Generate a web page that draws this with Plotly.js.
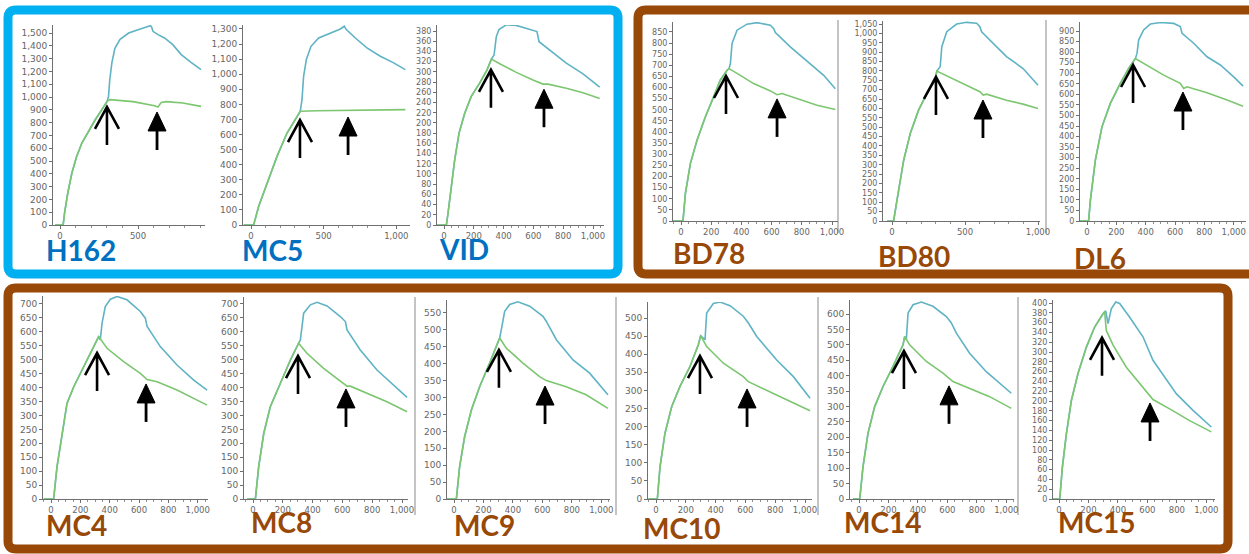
<!DOCTYPE html>
<html><head><meta charset="utf-8">
<script src="https://cdn.plot.ly/plotly-3.0.1.min.js"></script>
<style>html,body{margin:0;padding:0;background:#fff}#chart{width:1249px;height:554px}</style>
</head><body><div id="chart"></div>
<script>
// ---------------- DATA ----------------
const panelNames = ['H162','MC5','VID','BD78','BD80','DL6','MC4','MC8','MC9','MC10','MC14','MC15'];
const labelColors = ['#0070C0','#0070C0','#0070C0','#984807','#984807','#984807','#984807','#984807','#984807','#984807','#984807','#984807'];
const xTickStep = [500,500,200,200,500,200,200,200,200,200,200,200];
const yTickStep = [100,100,20,50,50,50,50,50,50,50,50,20];

// green = series 1, blue = series 2 (x values, y values)
const H162_gx = [-32,20,30,50,75,105,140,180,225,268,302,319,468,606,628,649,681,787,904];
const H162_gy = [0,0,100,250,400,530,640,730,820,900,966,979,964,932,922,958,964,953,927];
const H162_bx = [-32,20,30,50,75,105,140,180,225,268,302,311,319,333,352,385,440,510,579,587,596,628,670,723,777,840,904];
const H162_by = [0,0,100,250,400,530,640,730,820,900,966,1005,1135,1270,1380,1450,1500,1530,1557,1547,1513,1487,1461,1409,1331,1271,1214];

const MC5_gx = [-50,18,53,110,179,248,317,339,454,683,913,1062];
const MC5_gy = [0,0,124,279,455,610,721,754,758,762,765,765];
const MC5_bx = [-50,18,53,110,179,248,317,339,351,362,381,413,466,546,615,642,656,718,798,890,982,1062];
const MC5_by = [0,0,124,279,455,610,721,754,831,986,1097,1185,1240,1274,1300,1318,1296,1240,1174,1119,1075,1030];

const VID_gx = [-47,16,27,49,72,101,139,183,239,289,318,374,485,597,664,698,821,933,1045];
const VID_gy = [0,0,23,76,128,180,219,252,278,304,325,316,299,284,276,276,268,259,248];
const VID_bx = [-47,16,27,49,72,101,139,183,239,289,318,336,351,369,418,485,553,624,638,709,821,933,1045];
const VID_by = [0,0,23,76,128,180,219,252,278,304,325,333,369,383,392,391,385,379,359,342,317,296,270];

const BD78_gx = [-60,13,29,62,106,161,216,260,305,318,393,481,592,636,669,768,901,1022];
const BD78_gy = [0,0,123,258,363,468,558,633,678,685,655,618,585,568,573,550,520,501];
const BD78_bx = [-60,13,29,62,106,161,216,260,305,318,327,338,371,437,503,592,614,625,724,857,945,1022];
const BD78_by = [0,0,123,258,363,468,558,633,678,685,708,798,858,885,892,880,865,847,783,708,655,595];

const BD80_gx = [-34,11,34,80,125,182,239,295,307,398,511,602,625,648,784,898,1000];
const BD80_gy = [0,0,110,324,466,591,680,751,799,765,724,689,671,676,644,623,600];
const BD80_bx = [-34,11,34,80,125,182,239,295,307,330,341,375,443,511,580,602,614,693,784,898,1000];
const BD80_by = [0,0,110,324,466,591,680,751,799,822,929,1009,1050,1059,1054,1036,1009,947,876,813,724];

const DL6_gx = [-50,11,23,57,102,159,227,284,330,409,523,636,659,682,818,955,1064];
const DL6_gy = [0,0,98,288,446,557,652,723,770,739,691,652,628,636,607,573,544];
const DL6_bx = [-50,11,23,57,102,159,227,284,330,341,352,386,432,500,591,636,648,727,818,909,1000,1064];
const DL6_by = [0,0,98,288,446,557,652,723,770,794,857,905,933,940,936,921,889,842,778,739,683,639];

const MC4_gx = [-50,18,41,75,109,155,223,280,325,382,495,609,655,723,859,1064];
const MC4_gy = [0,0,115,235,343,403,475,535,583,541,493,451,429,421,391,337];
const MC4_bx = [-50,18,41,75,109,155,223,280,325,336,348,370,405,450,518,609,643,655,745,859,973,1064];
const MC4_by = [0,0,115,235,343,403,475,535,583,571,631,691,717,727,715,673,649,619,547,481,427,391];

const MC8_gx = [-40,16,38,72,116,183,251,306,362,474,608,631,653,765,899,1034];
const MC8_gy = [0,0,115,235,331,415,499,559,523,469,415,405,405,379,349,313];
const MC8_bx = [-40,16,38,72,116,183,251,306,318,340,385,430,497,586,620,631,720,832,944,1034];
const MC8_by = [0,0,115,235,331,415,499,559,571,667,697,706,693,655,637,607,535,463,409,365];

const MC9_gx = [-52,16,38,72,118,174,242,310,355,468,581,627,762,897,1045];
const MC9_gy = [0,0,95,184,263,332,402,476,446,402,362,350,332,308,268];
const MC9_bx = [-52,16,38,72,118,174,242,310,321,344,378,434,514,604,627,695,808,921,1045];
const MC9_by = [0,0,95,184,263,332,402,476,500,555,575,583,570,540,525,471,411,372,308];

const MC10_gx = [-51,9,27,60,105,161,228,284,300,340,452,586,620,743,877,1034];
const MC10_gy = [0,0,89,181,255,311,366,426,451,421,375,338,324,301,274,244];
const MC10_bx = [-51,9,27,60,105,161,228,284,300,329,340,385,430,497,586,620,676,810,922,1034];
const MC10_by = [0,0,89,181,255,311,366,426,451,440,514,540,544,534,505,486,449,384,338,278];

const MC14_gx = [-41,5,27,61,106,163,231,299,310,344,457,570,638,751,887,1034];
const MC14_gy = [0,0,104,213,299,365,430,500,527,500,446,408,381,359,332,294];
const MC14_bx = [-41,5,27,61,106,163,231,299,310,321,333,367,423,502,593,627,661,751,864,1034];
const MC14_by = [0,0,104,213,299,365,430,500,527,516,603,630,639,625,592,571,538,473,413,343];

const MC15_gx = [-52,5,23,50,84,129,186,242,299,310,321,367,457,570,638,751,887,1034];
const MC15_gy = [0,0,65,133,201,256,310,351,378,382,344,314,269,229,203,184,160,137];
const MC15_bx = [-52,5,23,50,84,129,186,242,299,317,333,355,385,412,480,570,638,683,796,910,1034];
const MC15_by = [0,0,65,133,201,256,310,351,378,384,358,388,402,399,371,331,283,263,215,181,147];

const greenX = [H162_gx,MC5_gx,VID_gx,BD78_gx,BD80_gx,DL6_gx,MC4_gx,MC8_gx,MC9_gx,MC10_gx,MC14_gx,MC15_gx];
const greenY = [H162_gy,MC5_gy,VID_gy,BD78_gy,BD80_gy,DL6_gy,MC4_gy,MC8_gy,MC9_gy,MC10_gy,MC14_gy,MC15_gy];
const blueX  = [H162_bx,MC5_bx,VID_bx,BD78_bx,BD80_bx,DL6_bx,MC4_bx,MC8_bx,MC9_bx,MC10_bx,MC14_bx,MC15_bx];
const blueY  = [H162_by,MC5_by,VID_by,BD78_by,BD80_by,DL6_by,MC4_by,MC8_by,MC9_by,MC10_by,MC14_by,MC15_by];

// arrow anchor points (data coords): open arrow at first break, filled arrow at second
const openArrowX = [301,337,315,298,301,314,314,302,305,295,305,292];
const openArrowY = [922,696,304,652,768,739,524,513,441,395,480,329];
const fillArrowX = [622,668,671,636,623,654,648,624,618,611,611,618];
const fillArrowY = [883,716,266,549,645,611,413,395,334,304,367,196];

// ---------------- LAYOUT GEOMETRY (pixels) ----------------
const W = 1249, H = 554;
// L: y-axis line px, X0: px of x=0, sx: px per x unit, R: right px, Y0: px of y=0, sy: px per y unit, T: top px
const geom = [
  {L:53,  X0:60,   sx:0.156,  R:205,  Y0:225, sy:0.128,  T:25},
  {L:243, X0:251,  sx:0.1453, R:410,  Y0:225, sy:0.1508, T:25},
  {L:437, X0:444,  sx:0.149,  R:604,  Y0:225, sy:0.5105, T:25},
  {L:673, X0:681,  sx:0.151,  R:838,  Y0:221, sy:0.2224, T:22},
  {L:883, X0:892,  sx:0.146,  R:1040, Y0:221, sy:0.1876, T:21},
  {L:1080,X0:1087, sx:0.1467, R:1246, Y0:221, sy:0.2111, T:22},
  {L:43,  X0:51,   sx:0.1467, R:208,  Y0:499, sy:0.2786, T:296},
  {L:244, X0:253,  sx:0.149,  R:408,  Y0:499, sy:0.2786, T:297},
  {L:447, X0:454,  sx:0.1473, R:610,  Y0:499, sy:0.3382, T:300},
  {L:648, X0:656,  sx:0.149,  R:812,  Y0:499, sy:0.362,  T:302},
  {L:850, X0:859,  sx:0.1473, R:1014, Y0:499, sy:0.3083, T:300},
  {L:1053,X0:1059, sx:0.1473, R:1215, Y0:499, sy:0.49,   T:300}
];
const labelPos = [[44,250],[240,250],[437,249],[671,253],[876,256],[1072,258],[44,525],[249,522],[452,525],[641,528],[842,522],[1056,522]];

const px = x => x / W, py = y => 1 - y / H;

const traces = [];
const layout = {
  width: W, height: H, margin: {l:0,r:0,t:0,b:0},
  paper_bgcolor: '#ffffff', plot_bgcolor: 'rgba(0,0,0,0)',
  showlegend: false, separators: '.,',
  shapes: [], annotations: []
};

panelNames.forEach((name, i) => {
  const g = geom[i];
  const sfx = i === 0 ? '' : String(i + 1);
  const xr = 'x' + sfx, yr = 'y' + sfx;
  const ySpacing = g.sy * yTickStep[i];
  const yFont = {family: 'DejaVu Sans', size: ySpacing >= 12 ? 9 : 8, color: '#666666'};
  const xFont = {family: 'DejaVu Sans', size: 8.5, color: '#666666'};
  traces.push({x: blueX[i], y: blueY[i], xaxis: xr, yaxis: yr, type: 'scatter', mode: 'lines',
    line: {color: '#5fb3c4', width: 1.6}, hoverinfo: 'skip'});
  traces.push({x: greenX[i], y: greenY[i], xaxis: xr, yaxis: yr, type: 'scatter', mode: 'lines',
    line: {color: '#7cc670', width: 1.6}, hoverinfo: 'skip'});
  layout['xaxis' + sfx] = {
    domain: [px(g.L), px(g.R)], anchor: yr,
    range: [(g.L - g.X0) / g.sx, (g.R - g.X0) / g.sx],
    showgrid: false, zeroline: false, showline: true, linecolor: '#707070', linewidth: 1,
    ticks: 'outside', ticklen: 3, tickcolor: '#707070', dtick: xTickStep[i], tick0: 0,
    tickformat: ',d', tickfont: xFont,
    minor: {dtick: xTickStep[i] / (xTickStep[i] === 500 ? 5 : 4), ticks: 'outside', ticklen: 2, tickcolor: '#909090', showgrid: false}
  };
  layout['yaxis' + sfx] = {
    domain: [py(g.Y0), py(g.T)], anchor: xr,
    range: [0, (g.Y0 - g.T) / g.sy],
    showgrid: false, zeroline: false, showline: true, linecolor: '#707070', linewidth: 1,
    ticks: 'outside', ticklen: 3, tickcolor: '#707070', dtick: yTickStep[i], tick0: 0,
    tickformat: ',d', tickfont: yFont
  };
  // arrows
  layout.shapes.push({type: 'path', xref: xr, yref: yr, xsizemode: 'pixel', ysizemode: 'pixel',
    xanchor: openArrowX[i], yanchor: openArrowY[i], path: 'M-12,-22L0,0L12,-22M0,0L0,-38',
    line: {color: '#000', width: 2.6}, layer: 'above'});
  layout.shapes.push({type: 'path', xref: xr, yref: yr, xsizemode: 'pixel', ysizemode: 'pixel',
    xanchor: fillArrowX[i], yanchor: fillArrowY[i], path: 'M-9,-19L0,0L9,-19Z',
    fillcolor: '#000', line: {color: '#000', width: 1}, layer: 'above'});
  layout.shapes.push({type: 'line', xref: xr, yref: yr, xsizemode: 'pixel', ysizemode: 'pixel',
    xanchor: fillArrowX[i], yanchor: fillArrowY[i], x0: 0, x1: 0, y0: -17, y1: -38,
    line: {color: '#000', width: 2.8}, layer: 'above'});
  // label
  layout.annotations.push({text: '<b>' + name + '</b>', xref: 'paper', yref: 'paper',
    x: px(labelPos[i][0]), y: py(labelPos[i][1]), xanchor: 'left', yanchor: 'middle',
    showarrow: false, font: {family: 'Lato', size: 28, color: labelColors[i]}});
});

// panel separators
[[838,20,233],[1046,20,233],[415,297,515],[616,297,515],[818,297,515],[1018,297,515]].forEach(s => {
  layout.shapes.push({type: 'line', xref: 'paper', yref: 'paper', x0: px(s[0]), x1: px(s[0]), y0: py(s[1]), y1: py(s[2]),
    line: {color: '#c4c4c4', width: 2}, layer: 'below'});
});

// group borders (rounded rectangles)
function rrect(x0, y0, x1, y1, r) {
  const P = (x, y) => px(x).toFixed(5) + ',' + py(y).toFixed(5);
  return 'M' + P(x0 + r, y0) + ' L' + P(x1 - r, y0) + ' Q' + P(x1, y0) + ' ' + P(x1, y0 + r) +
    ' L' + P(x1, y1 - r) + ' Q' + P(x1, y1) + ' ' + P(x1 - r, y1) +
    ' L' + P(x0 + r, y1) + ' Q' + P(x0, y1) + ' ' + P(x0, y1 - r) +
    ' L' + P(x0, y0 + r) + ' Q' + P(x0, y0) + ' ' + P(x0 + r, y0) + ' Z';
}
layout.shapes.push({type: 'path', xref: 'paper', yref: 'paper', path: rrect(8, 10, 618, 274, 8), line: {color: '#00B0F0', width: 9}, layer: 'below'});
layout.shapes.push({type: 'path', xref: 'paper', yref: 'paper', path: rrect(638, 10, 1262, 274, 8), line: {color: '#984807', width: 9}, layer: 'below'});
layout.shapes.push({type: 'path', xref: 'paper', yref: 'paper', path: rrect(8, 288, 1228, 549, 8), line: {color: '#984807', width: 9}, layer: 'below'});

Plotly.newPlot('chart', traces, layout, {staticPlot: true, displayModeBar: false});
</script></body></html>
